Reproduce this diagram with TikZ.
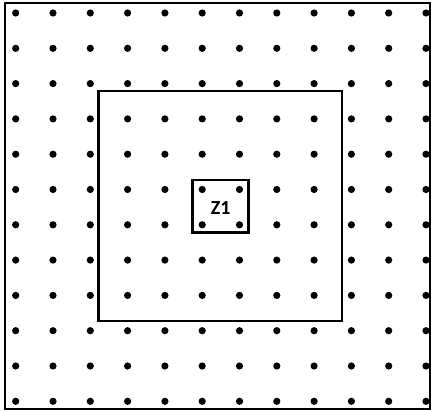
\documentclass[tikz,border=0pt]{standalone}
\usepackage{fontspec}
\setmainfont{Carlito}
\begin{document}
\begin{tikzpicture}[x=1pt,y=-1pt,
  frame/.style={draw=black,line width=2.2pt},
  griddot/.style={fill=black},
  label/.style={font=\bfseries\fontsize{20}{24}\selectfont,inner sep=0pt}]
\useasboundingbox (0,0) rectangle (431,411);
\fill[white] (0,0) rectangle (431,411);
\draw[frame] (5,3) rectangle (430,409);
\foreach \i in {0,...,11}{
  \foreach \j in {0,...,11}{
    \fill[griddot] ({15.7+37.3*\i},{13+35.3*\j}) circle (3.6);
  }
}
\draw[frame] (98.5,91) rectangle (342,321);
\draw[frame] (192.5,180) rectangle (248.5,232.5);
\node[label] (z1) at (220.7,208) {Z1};
\end{tikzpicture}
\end{document}
